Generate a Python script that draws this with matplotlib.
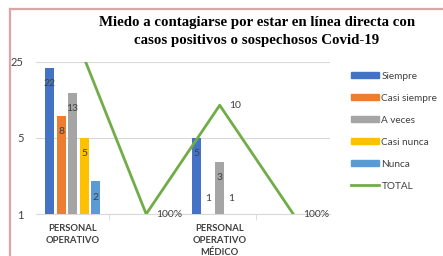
import matplotlib
matplotlib.use("Agg")
import matplotlib.pyplot as plt
import numpy as np
from matplotlib.patches import Rectangle
from matplotlib.lines import Line2D
from matplotlib.ticker import FixedLocator

plt.rcParams['font.family'] = ['Lato', 'DejaVu Sans']

categories = ["PERSONAL\nOPERATIVO", "", "PERSONAL\nOPERATIVO\nMÉDICO", ""]
series_names = ["Siempre", "Casi siempre", "A veces", "Casi nunca", "Nunca"]
siempre = [22, np.nan, 5, np.nan]
casi_siempre = [8, np.nan, 1, np.nan]
a_veces = [13, np.nan, 3, np.nan]
casi_nunca = [5, np.nan, 1, np.nan]
nunca = [2, np.nan, np.nan, np.nan]
total = [50, 1, 10, 1]
total_labels = ["50", "100%", "10", "100%"]
y_ticks = [1, 5, 25]

colors = ["#4472C4", "#ED7D31", "#A5A5A5", "#FFC000", "#5B9BD5"]
line_color = "#70AD47"
text_color = "#404040"

fig = plt.figure(figsize=(4.43, 2.56), dpi=100)
ax = fig.add_axes([0.081, 0.164, 0.664, 0.594])

# pink frame round the chart (only top and left edges fall inside the picture)
frame_y = 0.965
frame_x = 0.022
fig.lines.append(Line2D([frame_x, 1.0], [frame_y, frame_y], transform=fig.transFigure,
                        color="#E0A3A3", linewidth=1.6))
fig.lines.append(Line2D([frame_x, frame_x], [0.0, frame_y], transform=fig.transFigure,
                        color="#E0A3A3", linewidth=1.6))

x = np.arange(len(categories))
width = 0.122
step = 0.158
all_series = [siempre, casi_siempre, a_veces, casi_nunca, nunca]
for i, (vals, c) in enumerate(zip(all_series, colors)):
    pos = x + (i - 2) * step
    ax.bar(pos, vals, width, bottom=0, color=c, zorder=2)
    for px, v in zip(pos, vals):
        if np.isnan(v):
            continue
        if v <= 1:
            ax.annotate(str(int(v)), (px, 1), xytext=(0, 11), textcoords="offset points",
                        ha="center", va="center", fontsize=7.5, color=text_color)
        elif v <= 2:
            ax.annotate(str(int(v)), (px, np.sqrt(v)), ha="center", va="center",
                        fontsize=7.5, color=text_color)
        else:
            ax.annotate(str(int(v)), (px, v), xytext=(0, -11), textcoords="offset points",
                        ha="center", va="center", fontsize=7.5, color=text_color)

ax.plot(x, total, color=line_color, linewidth=2.0, zorder=3, clip_on=True)
for px, v, lab in zip(x, total, total_labels):
    if v > 25:
        continue
    ax.annotate(lab, (px, v), xytext=(7, 0), textcoords="offset points",
                ha="left", va="center", fontsize=7.5, color=text_color)

ax.set_yscale("log")
ax.set_ylim(1, 25)
ax.yaxis.set_major_locator(FixedLocator(y_ticks))
ax.yaxis.set_minor_locator(FixedLocator([]))
ax.set_yticklabels([str(t) for t in y_ticks])
ax.set_xlim(-0.5, 3.5)
ax.set_xticks(x)
ax.set_xticklabels(categories, linespacing=1.45, fontweight="bold")
ax.tick_params(axis="x", length=0, labelsize=6.8, labelcolor=text_color, pad=7)
ax.set_xticks([0.5, 2.5], minor=True)
ax.tick_params(axis="x", which="minor", length=4, color="#D9D9D9", direction="out")
ax.tick_params(axis="y", length=0, labelsize=8, labelcolor=text_color, pad=9)
ax.grid(axis="y", color="#D9D9D9", linewidth=0.8, zorder=0)
for s in ["top", "right", "left"]:
    ax.spines[s].set_visible(False)
ax.spines["bottom"].set_color("#D9D9D9")
ax.spines["bottom"].set_zorder(1)

handles = [Rectangle((0, 0), 1, 1, color=c) for c in colors]
handles.append(Line2D([0], [0], color=line_color, linewidth=2))
fig.legend(handles, series_names + ["TOTAL"], loc="upper left",
           bbox_to_anchor=(0.782, 0.74), frameon=False, fontsize=7.2,
           labelcolor=text_color, handlelength=2.8, handleheight=0.5,
           handletextpad=0.2, labelspacing=1.3, borderpad=0)

fig.text(0.58, 0.937, "Miedo a contagiarse por estar en línea directa con\ncasos positivos o sospechosos Covid-19",
         ha="center", va="top", fontsize=10.7, family="Liberation Serif",
         fontweight="bold", linespacing=1.45, color="black")

fig.savefig("out.png", dpi=100)
